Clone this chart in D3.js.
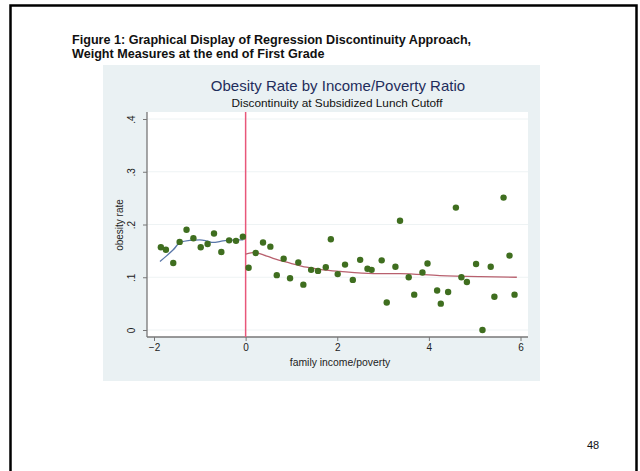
<!DOCTYPE html>
<html><head><meta charset="utf-8">
<script src="https://cdn.jsdelivr.net/npm/d3@7"></script>
<style>body{margin:0;background:#fff}svg{display:block}</style>
</head><body>
<script>
// Data
const binX = [-1.85,-1.74,-1.58,-1.44,-1.29,-1.14,-0.98,-0.83,-0.69,-0.53,-0.36,-0.21,-0.06,
  0.065,0.22,0.38,0.54,0.68,0.83,0.97,1.15,1.26,1.43,1.58,1.75,1.86,2.01,2.17,2.34,2.50,2.66,2.75,2.97,3.08,3.27,3.37,3.56,3.68,3.86,3.97,4.18,4.26,4.42,4.59,4.71,4.83,5.03,5.17,5.35,5.43,5.63,5.76,5.87];
const binY = [0.157,0.152,0.127,0.167,0.190,0.174,0.157,0.163,0.183,0.148,0.170,0.169,0.177,
  0.118,0.146,0.166,0.158,0.104,0.135,0.098,0.128,0.086,0.114,0.112,0.119,0.172,0.106,0.124,0.095,0.133,0.116,0.114,0.132,0.052,0.120,0.207,0.100,0.067,0.109,0.126,0.075,0.050,0.072,0.232,0.100,0.091,0.125,0.000,0.120,0.063,0.251,0.141,0.067];
const fitLeftX = [-1.87,-1.72,-1.58,-1.43,-1.22,-1.0,-0.85,-0.71,-0.55,-0.41,-0.2,-0.05];
const fitLeftY = [0.130,0.141,0.152,0.166,0.170,0.171,0.169,0.166,0.168,0.170,0.171,0.171];
const fitRightX = [0.0,0.2,0.4,0.6,0.97,1.33,1.69,2.06,2.79,3.37,4.24,5.11,5.92];
const fitRightY = [0.144,0.147,0.142,0.136,0.127,0.119,0.114,0.111,0.107,0.107,0.103,0.101,0.100];
const xTicks = [-2,0,2,4,6];
const yTicks = [0,0.1,0.2,0.3,0.4];
const yTickLabels = ["0",".1",".2",".3",".4"];
const cutoff = 0;

const W = 640, H = 471;
const FONT = "'Liberation Sans', Arial, sans-serif";
const svg = d3.select("body").append("svg").attr("width", W).attr("height", H)
  .style("font-family", FONT);

// slide frame
svg.append("rect").attr("x", 10.5).attr("y", 5.5).attr("width", 626).attr("height", 480)
  .attr("fill", "none").attr("stroke", "#000").attr("stroke-width", 2.5);

// figure caption
svg.append("text").attr("x", 72).attr("y", 43.5).attr("font-size", 12.6).attr("font-weight", "bold")
  .attr("fill", "#111").text("Figure 1: Graphical Display of Regression Discontinuity Approach,");
svg.append("text").attr("x", 72).attr("y", 57.5).attr("font-size", 12.6).attr("font-weight", "bold")
  .attr("fill", "#111").text("Weight Measures at the end of First Grade");

// graph region
svg.append("rect").attr("x", 103).attr("y", 65).attr("width", 437).attr("height", 316).attr("fill", "#eaf1f3");

// plot region
const pl = 147, pr = 528, pt = 112, pb = 337;
svg.append("rect").attr("x", pl).attr("y", pt).attr("width", pr - pl).attr("height", pb - pt).attr("fill", "#fff");

const x = d3.scaleLinear().domain([-2, 6]).range([154, 520.5]);
const y = d3.scaleLinear().domain([0, 0.4]).range([330, 119]);

// grid
svg.append("g").selectAll("line").data(yTicks).join("line")
  .attr("x1", pl).attr("x2", pr).attr("y1", d => y(d)).attr("y2", d => y(d))
  .attr("stroke", "#eef3f4").attr("stroke-width", 1);

// axes
const yAxis = d3.axisLeft(y).tickValues(yTicks).tickFormat((d, i) => yTickLabels[i]).tickSize(4).tickSizeOuter(0);
const gy = svg.append("g").attr("transform", `translate(${pl},0)`).call(yAxis);
gy.select(".domain").attr("d", `M0,${pt}V${pb}`).attr("stroke", "#777").attr("stroke-width", 1.3);
gy.selectAll(".tick line").attr("stroke", "#777");
gy.selectAll(".tick text").attr("font-size", 10).attr("fill", "#222").attr("font-family", FONT)
  .attr("text-anchor", "middle")
  .attr("transform", "translate(-16,0) rotate(-90)").attr("x", 0).attr("y", 0).attr("dy", "0.35em");

const xAxis = d3.axisBottom(x).tickValues(xTicks).tickFormat(d3.format("d")).tickSize(4).tickSizeOuter(0);
const gx = svg.append("g").attr("transform", `translate(0,${pb})`).call(xAxis);
gx.select(".domain").attr("d", `M${pl},0H${pr}`).attr("stroke", "#777").attr("stroke-width", 1.3);
gx.selectAll(".tick line").attr("stroke", "#777");
gx.selectAll(".tick text").attr("font-size", 10).attr("fill", "#222").attr("y", 7).attr("font-family", FONT);

// axis titles
svg.append("text").attr("transform", `translate(119,225) rotate(-90)`).attr("text-anchor", "middle")
  .attr("dy", "0.35em").attr("font-size", 10).attr("fill", "#222").text("obesity rate");
svg.append("text").attr("x", 340).attr("y", 366).attr("text-anchor", "middle")
  .attr("font-size", 10.4).attr("fill", "#222").text("family income/poverty");

// titles
svg.append("text").attr("x", 338).attr("y", 91).attr("text-anchor", "middle")
  .attr("font-size", 15).attr("fill", "#1f2d5c").text("Obesity Rate by Income/Poverty Ratio");
svg.append("text").attr("x", 337).attr("y", 107).attr("text-anchor", "middle")
  .attr("font-size", 11.8).attr("fill", "#111").text("Discontinuity at Subsidized Lunch Cutoff");

// cutoff line
svg.append("line").attr("x1", x(cutoff)).attr("x2", x(cutoff)).attr("y1", pt).attr("y2", pb)
  .attr("stroke", "#e8577a").attr("stroke-width", 1.5);

// fit lines
const line = d3.line().x(d => x(d[0])).y(d => y(d[1])).curve(d3.curveMonotoneX);
svg.append("path").datum(d3.zip(fitLeftX, fitLeftY)).attr("d", line)
  .attr("fill", "none").attr("stroke", "#5876a8").attr("stroke-width", 1.3);
svg.append("path").datum(d3.zip(fitRightX, fitRightY)).attr("d", line)
  .attr("fill", "none").attr("stroke", "#b8606e").attr("stroke-width", 1.3);

// points
svg.append("g").selectAll("circle").data(d3.zip(binX, binY)).join("circle")
  .attr("cx", d => x(d[0])).attr("cy", d => y(d[1])).attr("r", 3.2)
  .attr("fill", "#3f6e1f");

// page number
svg.append("text").attr("x", 587).attr("y", 449).attr("font-size", 11).attr("fill", "#111").text("48");
</script>
</body></html>
